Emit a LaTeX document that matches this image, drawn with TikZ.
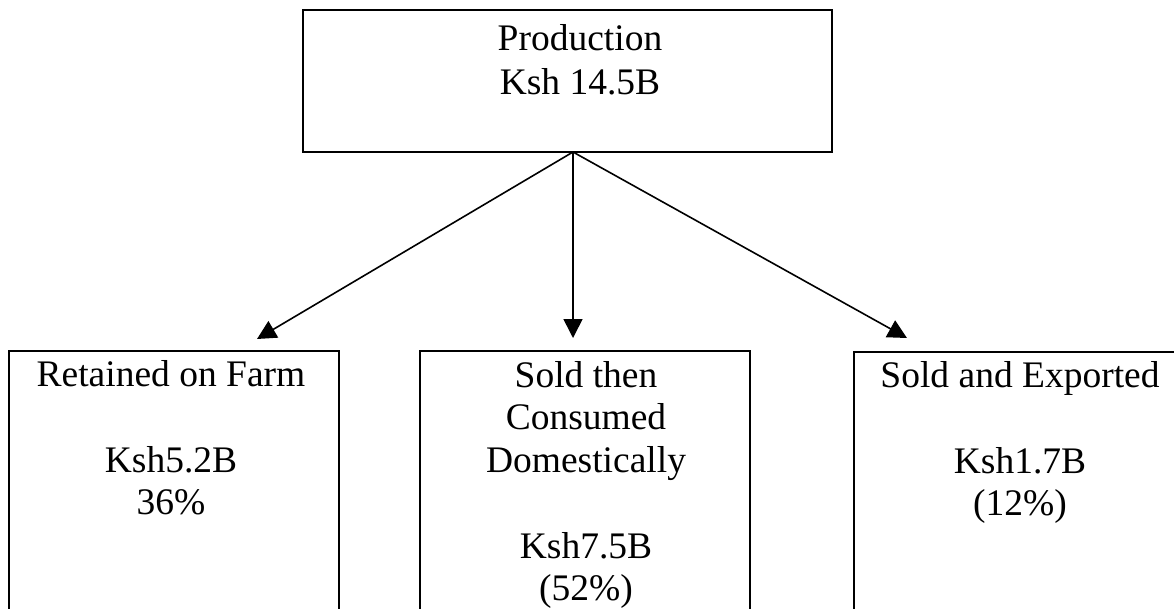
\documentclass[tikz,border=0pt]{standalone}
\usepackage{fontspec}
\setmainfont{Liberation Serif}
\usetikzlibrary{arrows.meta}
\begin{document}
\begin{tikzpicture}[x=1pt,y=-1pt,
  boxnode/.style={draw=black, line width=2pt, anchor=north west, inner sep=0pt, outer sep=0pt},
  txt/.style={anchor=base, inner sep=0pt, font=\fontsize{37.5}{43}\selectfont},
  flow/.style={line width=1.6pt, -{Triangle[length=19pt,width=19pt]}}]
\useasboundingbox (0,0) rectangle (1174,608);
\clip (0,0) rectangle (1174,608);
% boxes
\node[boxnode, minimum width=529pt, minimum height=142pt] (prod) at (303,10) {};
\node[boxnode, minimum width=330pt, minimum height=280pt] (farm) at (9,351) {};
\node[boxnode, minimum width=330pt, minimum height=280pt] (dom) at (420,351) {};
\node[boxnode, minimum width=340pt, minimum height=280pt] (exp) at (854,352) {};
% texts
\node[txt] (p1) at (580,50) {Production};
\node[txt] (p2) at (580,94) {Ksh 14.5B};
\node[txt] (f1) at (171,386) {Retained on Farm};
\node[txt] (f2) at (171,472) {Ksh5.2B};
\node[txt] (f3) at (171,514) {36\%};
\node[txt] (d1) at (586,387) {Sold then};
\node[txt] (d2) at (586,429) {Consumed};
\node[txt] (d3) at (586,472) {Domestically};
\node[txt] (d4) at (586,558) {Ksh7.5B};
\node[txt] (d5) at (586,600) {(52\%)};
\node[txt] (e1) at (1020,387) {Sold and Exported};
\node[txt] (e2) at (1020,473) {Ksh1.7B};
\node[txt] (e3) at (1020,515) {(12\%)};
% connectors
\coordinate (o) at (573,152);
\coordinate (tf) at (257,339);
\coordinate (td) at (573,338);
\coordinate (te) at (907,338);
\draw[flow] (o) -- (tf);
\draw[flow] (o) -- (td);
\draw[flow] (o) -- (te);
\end{tikzpicture}
\end{document}
